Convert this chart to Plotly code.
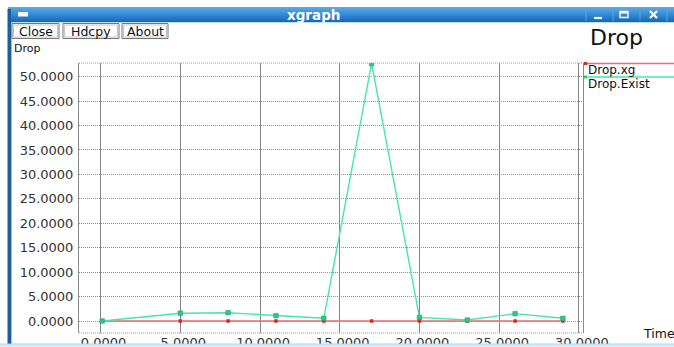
import plotly.graph_objects as go

# ---- data ----
time = [0.1, 5, 8, 11, 14, 17, 20, 23, 26, 29]
drop_xg = [0, 0, 0, 0, 0, 0, 0, 0, 0, 0]
drop_exist = [0.0, 1.6, 1.7, 1.1, 0.55, 52.7, 0.75, 0.2, 1.5, 0.55]
series_names = ["Drop.xg", "Drop.Exist"]
x_ticks = [0, 5, 10, 15, 20, 25, 30]
y_ticks = [0, 5, 10, 15, 20, 25, 30, 35, 40, 45, 50]
window_title = "xgraph"
buttons = ["Close", "Hdcpy", "About"]
y_label = "Drop"
plot_title = "Drop"
x_label = "Time"

# ---- geometry ----
W, H = 674, 347
L, R, T, B = 79, 583, 63, 333


def px(x):
    return (x - L) / (R - L)


def py(y):
    return (B - y) / (B - T)


RED = "#f06a6a"
RED_M = "#d62828"
GREEN = "#44e8a4"
GREEN_M = "#2cc886"
FONT = "DejaVu Sans"

fig = go.Figure()
fig.add_trace(go.Scatter(x=time, y=drop_xg, name=series_names[0], mode="lines+markers",
                         line=dict(color=RED, width=1.4),
                         marker=dict(symbol="square", size=3.5, color=RED_M)))
fig.add_trace(go.Scatter(x=time, y=drop_exist, name=series_names[1], mode="lines+markers",
                         line=dict(color=GREEN, width=1.4),
                         marker=dict(symbol="square", size=4.5, color=GREEN_M,
                                     line=dict(color="#2a9a66", width=0.6))))

shapes = []


def rect(x0, y0, x1, y1, fill, line_color=None, lw=0, layer="above"):
    shapes.append(dict(type="rect", xref="paper", yref="paper",
                       x0=px(x0), x1=px(x1), y0=py(y0), y1=py(y1),
                       fillcolor=fill, layer=layer,
                       line=dict(color=line_color or fill, width=lw)))


def seg(x0, y0, x1, y1, color, w=1, dash="solid", layer="above"):
    shapes.append(dict(type="line", xref="paper", yref="paper",
                       x0=px(x0), x1=px(x1), y0=py(y0), y1=py(y1), layer=layer,
                       line=dict(color=color, width=w, dash=dash)))


# plot frame
seg(L, T, R + 0.5, T, "#9a9a9a", 1, "1px,1px")
seg(L, B, R + 0.5, B, "#9a9a9a", 1, "1px,1px")
seg(R + 0.5, T, R + 0.5, B, "#8a8a8a", 1)

# title bar gradient
top = (88, 170, 232)
bot = (22, 106, 190)
n = 15
for i in range(n):
    f = i / (n - 1)
    c = tuple(int(top[k] + (bot[k] - top[k]) * f) for k in range(3))
    rect(8, 7 + i, W, 8 + i, "rgb(%d,%d,%d)" % c)
seg(8, 22.5, W, 22.5, "#bfe0f6", 1)
# window icon
rect(18, 12, 28, 16.5, "#f4f8fc", "#ffffff", 0)
# window control buttons
for bx in [586, 613, 640, 667]:
    seg(bx, 8, bx, 21, "#5aa6e0", 1)
seg(594, 18, 602, 18, "#ffffff", 2.2)
rect(620, 11.5, 628, 17.5, "rgba(0,0,0,0)", "#ffffff", 1.4)
seg(620, 12.5, 628, 12.5, "#ffffff", 2)
seg(650, 11, 657, 18, "#ffffff", 2.2)
seg(657, 11, 650, 18, "#ffffff", 2.2)
# left window border and bottom edge
rect(7.5, 9, 11, 344, "#1d5f9e")
seg(11.5, 22, 11.5, 344, "#8cc4ec", 1)
rect(0, 344, W, H, "#d6ecfa")
seg(0, 344, W, 344, "#a9d4f2", 1)

# toolbar buttons
btn_boxes = [(12, 59), (63, 119), (122, 168)]
annotations = []
for (x0, x1), label in zip(btn_boxes, buttons):
    rect(x0, 23.5, x1, 38.5, "#ffffff", "#777777", 1)
    rect(x0 + 1.5, 25, x1 - 1.5, 37, "rgba(0,0,0,0)", "#c4c4c4", 1)
    annotations.append(dict(xref="paper", yref="paper", x=px((x0 + x1) / 2), y=py(31),
                            text=label, showarrow=False, xanchor="center", yanchor="middle",
                            font=dict(family=FONT, size=12.5, color="#111111")))

# legend (drawn like xgraph)
leg_y = [63.5, 77]
leg_colors = [(RED, RED_M), (GREEN, GREEN_M)]
for name, yy, (lc, mc) in zip(series_names, leg_y, leg_colors):
    seg(585, yy, W, yy, lc, 1.4)
    rect(584, yy - 1.5, 587, yy + 1.5, mc)
    annotations.append(dict(xref="paper", yref="paper", x=px(586), y=py(yy + 6.5),
                            text=name, showarrow=False, xanchor="left", yanchor="middle",
                            font=dict(family=FONT, size=12, color="#111111")))

annotations += [
    dict(xref="paper", yref="paper", x=px(313), y=py(14.8), text="<b>%s</b>" % window_title,
         showarrow=False, xanchor="center", yanchor="middle",
         font=dict(family=FONT, size=13.5, color="#ffffff")),
    dict(xref="paper", yref="paper", x=px(12), y=py(48.5), text=y_label,
         showarrow=False, xanchor="left", yanchor="middle",
         font=dict(family=FONT, size=11, color="#111111")),
    dict(xref="paper", yref="paper", x=px(616), y=py(37.5), text=plot_title,
         showarrow=False, xanchor="center", yanchor="middle",
         font=dict(family=FONT, size=22, color="#111111")),
    dict(xref="paper", yref="paper", x=px(641), y=py(333), text=x_label,
         showarrow=False, xanchor="left", yanchor="middle",
         font=dict(family=FONT, size=12.5, color="#111111")),
]

fig.update_layout(
    width=W, height=H,
    margin=dict(l=L, r=W - R, t=T, b=H - B, pad=0, autoexpand=False),
    paper_bgcolor="#ffffff", plot_bgcolor="#ffffff",
    showlegend=False,
    hovermode=False,
    shapes=shapes,
    annotations=annotations,
    xaxis=dict(range=[-1.355, 30.26], tickvals=x_ticks, tickformat=".4f",
               showgrid=True, gridcolor="#858585", gridwidth=1, zeroline=False,
               showline=False, ticks="", ticklabelshift=3, ticklabelstandoff=0,
               automargin=False,
               tickfont=dict(family=FONT, size=13, color="#333333")),
    yaxis=dict(range=[-2.456, 52.8], tickvals=y_ticks, tickformat=".4f",
               showgrid=True, gridcolor="#8f8f8f", gridwidth=1, griddash="1px,1px",
               zeroline=False, showline=True, linecolor="#8a8a8a", linewidth=1,
               ticks="", ticklabelstandoff=2, automargin=False,
               tickfont=dict(family=FONT, size=13, color="#333333")),
)

fig.write_html(
    "out.html",
    config={"displayModeBar": False, "staticPlot": True},
    post_script="document.body.style.margin='0';document.body.style.overflow='hidden';",
)
